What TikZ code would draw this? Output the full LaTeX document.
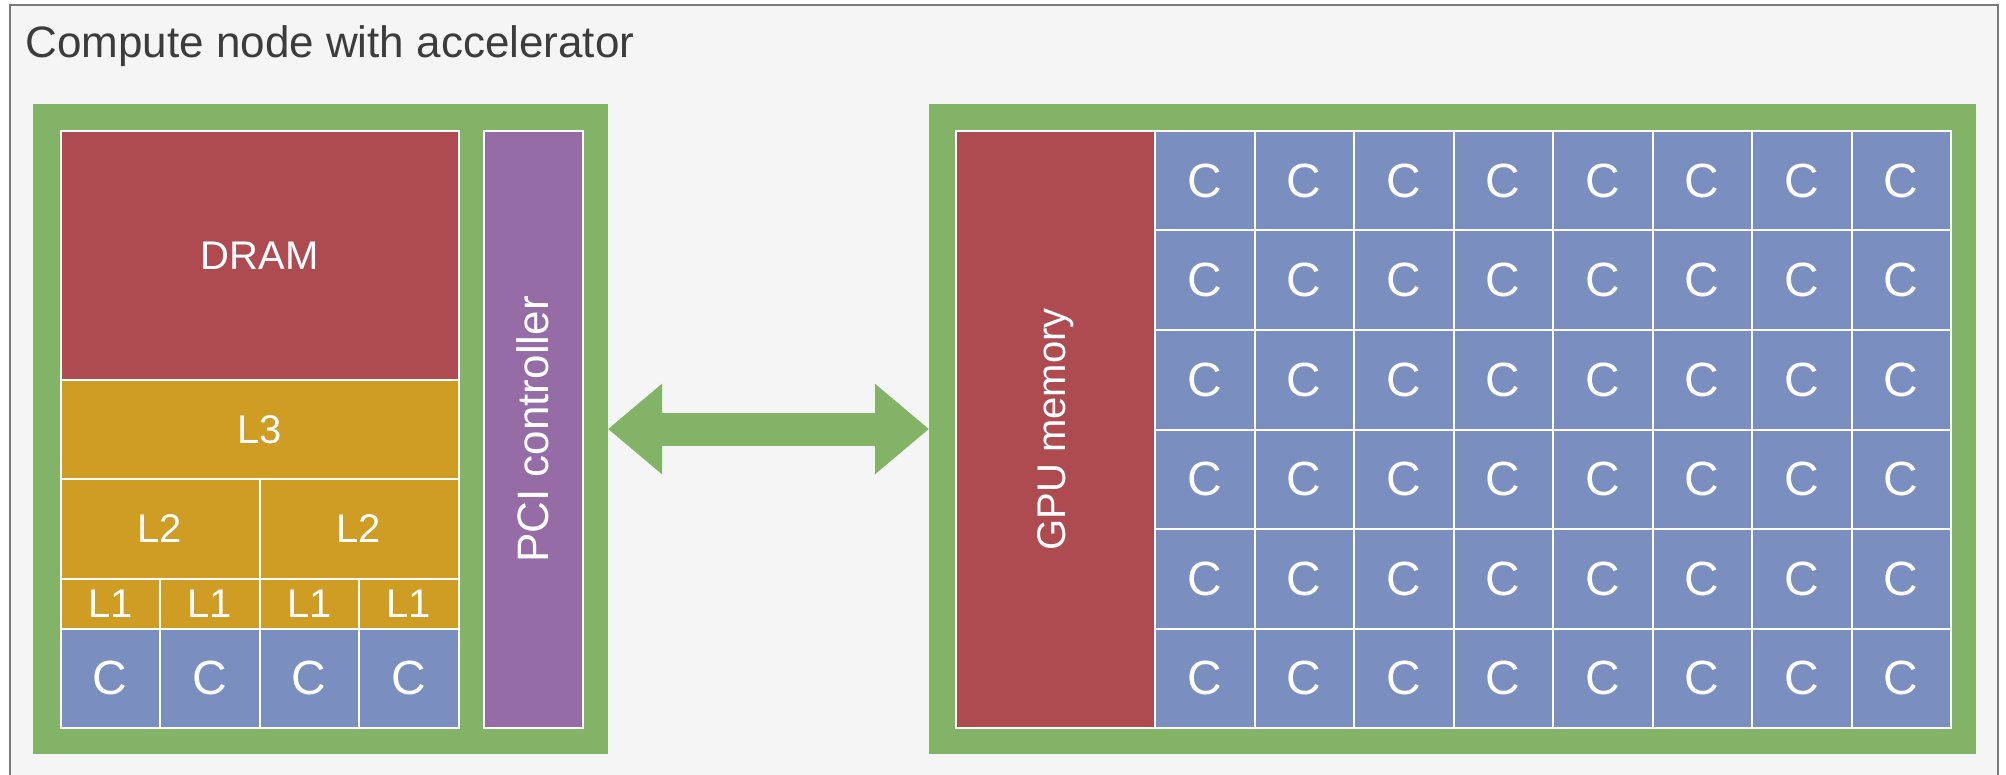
\documentclass[tikz,border=0pt]{standalone}
\usepackage{fontspec}
\setmainfont{Liberation Sans}
\usepackage{graphicx}
\usetikzlibrary{arrows.meta}
\definecolor{framefill}{HTML}{F5F5F5}
\definecolor{framedraw}{HTML}{7A7A7A}
\definecolor{titlegray}{HTML}{3C3C3C}
\definecolor{boxgreen}{HTML}{82B366}
\definecolor{dramred}{HTML}{AE4B51}
\definecolor{cachegold}{HTML}{CF9C24}
\definecolor{coreblue}{HTML}{7A8EC0}
\definecolor{pcipurple}{HTML}{956CA6}
\newcommand\lblfont{\fontsize{20pt}{24pt}\selectfont}
\newcommand\pcifont{\fontsize{22pt}{26pt}\selectfont}
\newcommand\corefont{\fontsize{24pt}{28pt}\selectfont}
% \blkat{name}{style}{x1}{y1}{x2}{y2}{text}  (coordinates in px)
\newcommand\blkat[7]{%
  \node[#2, minimum width={(#5-#3)*0.5pt}, minimum height={(#6-#4)*0.5pt}]
    (#1) at ({(#3+#5)/2},{(#4+#6)/2}) {#7};}
\begin{document}
\begin{tikzpicture}[x=0.5pt,y=-0.5pt,
  greenbox/.style={inner sep=0pt, outer sep=0pt, draw=none, fill=boxgreen},
  blk/.style={inner sep=0pt, outer sep=0pt, draw=white, line width=1pt, text=white, font=\lblfont},
  corecell/.style={blk, fill=coreblue, font=\corefont},
  cache/.style={blk, fill=cachegold},
  memblk/.style={blk, fill=dramred},
  link/.style={draw=boxgreen, line width=16.5pt,
    {Triangle[length=27pt,width=43.5pt]}-{Triangle[length=27pt,width=43.5pt]}}]
\useasboundingbox (0,0) rectangle (2006,775);
\begin{scope}
  \clip (0,0) rectangle (2006,775);
  \draw[fill=framefill, draw=framedraw, line width=1.2pt] (10,5) rectangle (1998,820);
\end{scope}
\node[anchor=base west, inner sep=0pt, text=titlegray, font=\fontsize{22pt}{26pt}\selectfont] (title) at (25,58) {Compute node with accelerator};
% host box
\blkat{host}{greenbox}{33}{104}{608}{754}{}
\blkat{dram}{memblk}{60.5}{131}{458.5}{379.75}{DRAM}
\blkat{l3}{cache}{60.5}{379.75}{458.5}{479.25}{L3}
\blkat{l2a}{cache}{60.5}{479.25}{259.5}{578.75}{L2}
\blkat{l2b}{cache}{259.5}{479.25}{458.5}{578.75}{L2}
\foreach \i in {0,...,3}{
  \pgfmathsetmacro\xa{60.5+99.5*\i}
  \pgfmathsetmacro\xb{160+99.5*\i}
  \blkat{l1-\i}{cache}{\xa}{578.75}{\xb}{628.5}{L1}
  \blkat{hc-\i}{corecell}{\xa}{628.5}{\xb}{728}{C}
}
\blkat{pci}{blk, fill=pcipurple, font=\pcifont}{483.5}{131}{583}{728}{\rotatebox{90}{PCI controller}}
% accelerator box
\blkat{acc}{greenbox}{929}{104}{1976}{754}{}
\blkat{gpu}{memblk}{956}{131}{1155}{728}{\rotatebox{90}{GPU memory}}
\foreach \i in {0,...,7}{
  \foreach \j in {0,...,5}{
    \pgfmathsetmacro\xa{1155+99.5*\i}
    \pgfmathsetmacro\xb{1254.5+99.5*\i}
    \pgfmathsetmacro\ya{131+99.5*\j}
    \pgfmathsetmacro\yb{230.5+99.5*\j}
    \blkat{gc-\i-\j}{corecell}{\xa}{\ya}{\xb}{\yb}{C}
  }
}
% link
\draw[link] (host.east) -- (acc.west);
\end{tikzpicture}
\end{document}
